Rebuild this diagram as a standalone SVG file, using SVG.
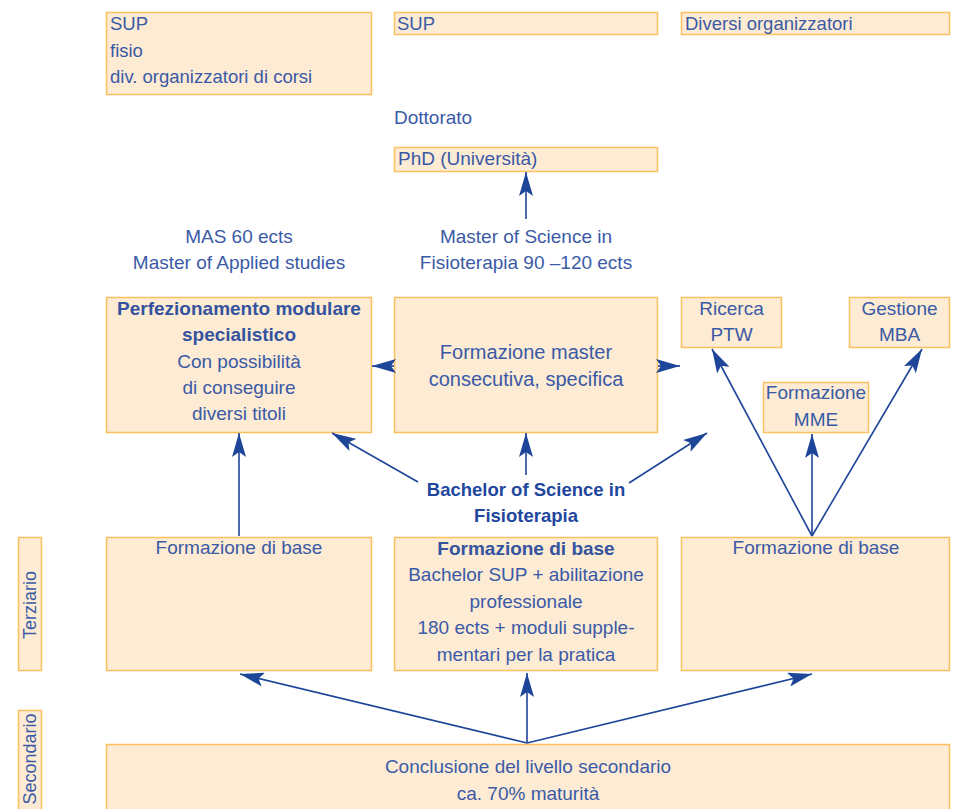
<svg xmlns="http://www.w3.org/2000/svg" width="955" height="809" viewBox="0 0 955 809">
<defs>
<style>
.box{fill:#fdebd4;stroke:#fbc060;stroke-width:1.5}
text{font-family:"Liberation Sans",Arial,sans-serif;font-size:19px;fill:#3a5aa6}
.c{text-anchor:middle}
.m{font-weight:bold;font-size:19px;fill:#34539f}
.b{font-weight:bold;font-size:18.5px;fill:#1f479e}
.big{font-size:20px}
.side{font-size:18px}
.conn line{stroke:#1d4598;stroke-width:1.6;fill:none;marker-end:url(#ah)}
</style>
<marker id="ah" viewBox="0 0 24 14" refX="24" refY="7" markerWidth="24" markerHeight="14" markerUnits="userSpaceOnUse" orient="auto">
<path d="M0,0 L24,7 L0,14 L5,7 z" fill="#1d4598"/>
</marker>
</defs>
<rect width="955" height="809" fill="#ffffff"/>

<g id="top-left"><rect class="box" x="106.5" y="12.5" width="265" height="82"/>
<text x="110" y="30" style="font-size:18.5px">SUP</text><text x="110" y="57" style="font-size:18.5px">fisio</text><text x="110" y="83" style="font-size:18.5px">div. organizzatori di corsi</text></g>
<g id="top-mid"><rect class="box" x="394.5" y="12.5" width="263" height="22"/><text x="397" y="30" style="font-size:18.5px">SUP</text></g>
<g id="top-right"><rect class="box" x="681.5" y="12.5" width="268" height="22"/><text x="685" y="30" style="font-size:18.5px">Diversi organizzatori</text></g>

<g id="dottorato"><text x="394" y="124">Dottorato</text></g>
<g id="phd"><rect class="box" x="394.5" y="147.5" width="263" height="24"/><text x="398" y="165">PhD (Università)</text></g>

<g id="msc-label"><text class="c" x="526" y="243">Master of Science in</text><text class="c" x="526" y="269">Fisioterapia 90 –120 ects</text></g>
<g id="mas-label"><text class="c" x="239" y="243">MAS 60 ects</text><text class="c" x="239" y="269">Master of Applied studies</text></g>

<g id="perfezionamento"><rect class="box" x="106.5" y="297.5" width="265" height="135"/>
<text class="c m" x="239" y="315">Perfezionamento modulare</text>
<text class="c m" x="239" y="341">specialistico</text>
<text class="c" x="239" y="368">Con possibilità</text>
<text class="c" x="239" y="394">di conseguire</text>
<text class="c" x="239" y="420">diversi titoli</text></g>

<g id="master-consecutiva"><rect class="box" x="394.5" y="297.5" width="263" height="135"/>
<text class="c big" x="526" y="359">Formazione master</text>
<text class="c big" x="526" y="386">consecutiva, specifica</text></g>

<g id="ricerca"><rect class="box" x="681.5" y="297.5" width="100" height="50"/>
<text class="c" x="731.5" y="315">Ricerca</text><text class="c" x="731.5" y="341">PTW</text></g>
<g id="gestione"><rect class="box" x="849.5" y="297.5" width="100" height="50"/>
<text class="c" x="899.5" y="315">Gestione</text><text class="c" x="899.5" y="341">MBA</text></g>
<g id="mme"><rect class="box" x="763.5" y="382.5" width="105" height="50"/>
<text class="c" x="816" y="399">Formazione</text><text class="c" x="816" y="426">MME</text></g>

<g id="bachelor-label"><text class="c b" x="526" y="496">Bachelor of Science in</text><text class="c b" x="526" y="522">Fisioterapia</text></g>

<g id="terziario"><rect class="box" x="18.5" y="537.5" width="23" height="133"/>
<text class="c side" transform="translate(36,605) rotate(-90)">Terziario</text></g>
<g id="base-left"><rect class="box" x="106.5" y="537.5" width="265" height="133"/>
<text class="c" x="239" y="554">Formazione di base</text></g>
<g id="base-mid"><rect class="box" x="394.5" y="537.5" width="263" height="133"/>
<text class="c m" x="526" y="555">Formazione di base</text>
<text class="c" x="526" y="581">Bachelor SUP + abilitazione</text>
<text class="c" x="526" y="608">professionale</text>
<text class="c" x="526" y="634">180 ects + moduli supple-</text>
<text class="c" x="526" y="661">mentari per la pratica</text></g>
<g id="base-right"><rect class="box" x="681.5" y="537.5" width="268" height="133"/>
<text class="c" x="816" y="554">Formazione di base</text></g>

<g id="secondario"><rect class="box" x="18.5" y="710.5" width="23" height="110"/>
<text class="c side" transform="translate(36,759) rotate(-90)">Secondario</text></g>
<g id="conclusione"><rect class="box" x="106.5" y="744.5" width="843" height="80"/>
<text class="c" x="528" y="773">Conclusione del livello secondario</text>
<text class="c" x="528" y="800">ca. 70% maturità</text></g>

<g id="connectors" class="conn">
<line x1="526" y1="219" x2="526" y2="172"/>
<line x1="394" y1="366" x2="372" y2="366"/>
<line x1="658" y1="366" x2="680" y2="366"/>
<line x1="812" y1="536" x2="712" y2="349"/>
<line x1="812" y1="536" x2="812" y2="434"/>
<line x1="812" y1="536" x2="922" y2="349"/>
<line x1="418" y1="482" x2="332" y2="433"/>
<line x1="526" y1="475" x2="526" y2="433"/>
<line x1="629" y1="483" x2="707" y2="433"/>
<line x1="239" y1="536" x2="239" y2="433"/>
<line x1="527" y1="743" x2="240" y2="674"/>
<line x1="527" y1="743" x2="527" y2="673"/>
<line x1="527" y1="743" x2="812" y2="674"/>
</g>
</svg>
